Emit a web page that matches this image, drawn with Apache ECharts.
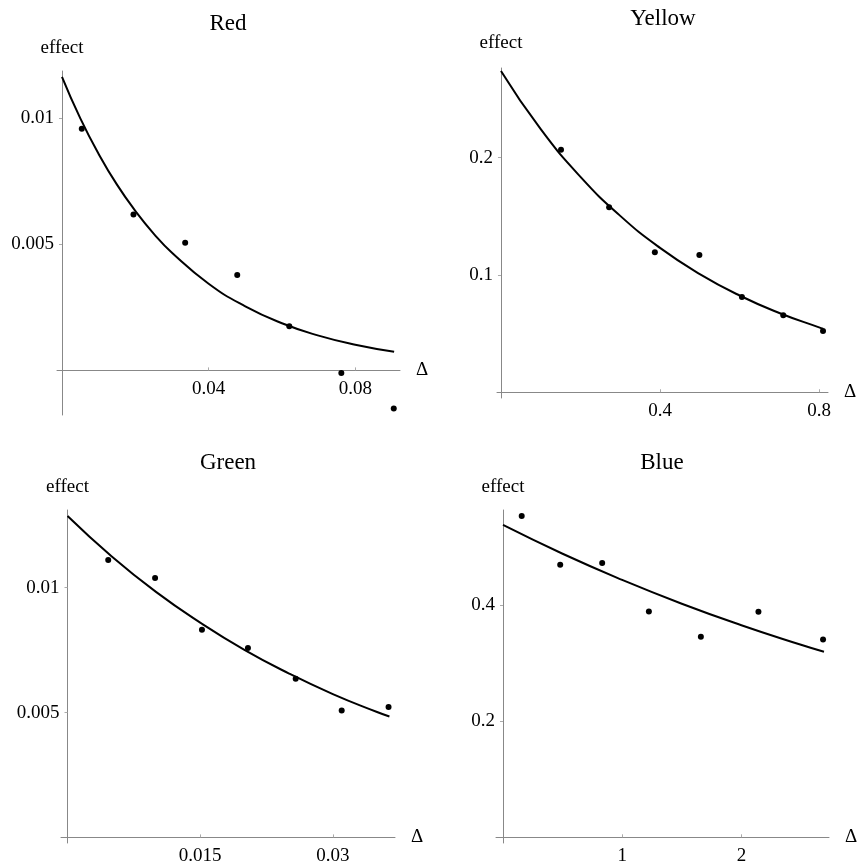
<!DOCTYPE html>
<html>
<head>
<meta charset="utf-8">
<script src="https://cdn.jsdelivr.net/npm/echarts@6/dist/echarts.min.js"></script>
<style>
  html, body { margin: 0; padding: 0; background: #fff; }
  #chart { width: 860px; height: 867px; }
</style>
</head>
<body>
<div id="chart"></div>
<script>
// panel titles
const titles = ['Red', 'Yellow', 'Green', 'Blue']

// measured points (Δ, effect)
const redX = [0.0054, 0.0195, 0.0336, 0.0478, 0.062, 0.0762, 0.0905]
const redY = [0.00959, 0.00619, 0.00506, 0.00379, 0.00175, -0.0001, -0.00151]
const yellowX = [0.151, 0.272, 0.387, 0.499, 0.606, 0.71, 0.81]
const yellowY = [0.2068, 0.1577, 0.1193, 0.117, 0.0812, 0.0656, 0.0523]
const greenX = [0.0046, 0.0099, 0.0152, 0.0204, 0.0258, 0.031, 0.0363]
const greenY = [0.01111, 0.01039, 0.00831, 0.00758, 0.00635, 0.00508, 0.00522]
const blueX = [0.157, 0.48, 0.832, 1.224, 1.66, 2.143, 2.685]
const blueY = [0.5534, 0.4695, 0.4724, 0.389, 0.3453, 0.3884, 0.3408]

// fitted curves
const redFitX = [0, 0.005, 0.01, 0.015, 0.02, 0.025, 0.03, 0.04, 0.05, 0.06, 0.07, 0.08, 0.0906]
const redFitY = [0.01165, 0.0100, 0.00859, 0.00737, 0.00633, 0.00543, 0.00467, 0.00344, 0.00254, 0.00187, 0.00138, 0.00102, 0.00074]
const yellowFitX = [0, 0.1, 0.2, 0.3, 0.4, 0.5, 0.6, 0.7, 0.8, 0.81]
const yellowFitY = [0.274, 0.2243, 0.1837, 0.1504, 0.1231, 0.1008, 0.0825, 0.0676, 0.0553, 0.0542]
const greenFitX = [0, 0.005, 0.01, 0.015, 0.02, 0.025, 0.03, 0.035, 0.0364]
const greenFitY = [0.01287, 0.01125, 0.00983, 0.0086, 0.00751, 0.00657, 0.00574, 0.00502, 0.00484]
const blueFitX = [0, 0.5, 1, 1.5, 2, 2.5, 2.693]
const blueFitY = [0.538, 0.4884, 0.4434, 0.4024, 0.3654, 0.3316, 0.3195]

// tick labels
const redXTicks = [0.04, 0.08]
const redYTicks = [0.005, 0.01]
const yellowXTicks = [0.4, 0.8]
const yellowYTicks = [0.1, 0.2]
const greenXTicks = [0.015, 0.03]
const greenYTicks = [0.005, 0.01]
const blueXTicks = [1, 2]
const blueYTicks = [0.2, 0.4]

const zip = (xs, ys) => xs.map((x, i) => [x, ys[i]])

const panels = [
  { title: titles[0], pts: zip(redX, redY), fit: zip(redFitX, redFitY), xt: redXTicks, yt: redYTicks,
    grid: { left: 57, top: 71, width: 343, height: 344 }, xr: [-0.00136, 0.0922], yr: [-0.00177, 0.01188],
    titlePos: [228, 24], yGap: 13 },
  { title: titles[1], pts: zip(yellowX, yellowY), fit: zip(yellowFitX, yellowFitY), xt: yellowXTicks, yt: yellowYTicks,
    grid: { left: 497, top: 68, width: 331, height: 330 }, xr: [-0.01, 0.8225], yr: [-0.0049, 0.2765],
    titlePos: [663, 19], yGap: 15 },
  { title: titles[2], pts: zip(greenX, greenY), fit: zip(greenFitX, greenFitY), xt: greenXTicks, yt: greenYTicks,
    grid: { left: 61, top: 510, width: 334, height: 333 }, xr: [-0.00074, 0.03703], yr: [-0.000224, 0.01311],
    titlePos: [228, 463], yGap: 13 },
  { title: titles[3], pts: zip(blueX, blueY), fit: zip(blueFitX, blueFitY), xt: blueXTicks, yt: blueYTicks,
    grid: { left: 496, top: 510, width: 333, height: 333 }, xr: [-0.0587, 2.735], yr: [-0.0098, 0.5638],
    titlePos: [662, 463], yGap: 13 }
]

const font = '"Liberation Serif", "DejaVu Serif", serif'
const axisColor = '#888'

// shift the axes from the grid edge to the zero line (labels follow too)
const zeroShift = (range, size) => -(0 - range[0]) / (range[1] - range[0]) * size

const option = {
  animation: false,
  backgroundColor: '#fff',
  textStyle: { fontFamily: font },
  graphic: panels.map(p => ({
    type: 'text',
    x: p.titlePos[0],
    y: p.titlePos[1],
    style: {
      text: p.title,
      font: '23px ' + font,
      fill: '#000',
      align: 'center',
      verticalAlign: 'middle',
      textAlign: 'center',
      textVerticalAlign: 'middle'
    }
  })),
  grid: panels.map(p => Object.assign({ containLabel: false, outerBoundsMode: 'none' }, p.grid)),
  xAxis: panels.map((p, i) => ({
    gridIndex: i,
    type: 'value',
    min: p.xr[0],
    max: p.xr[1],
    position: 'bottom',
    offset: zeroShift(p.yr, p.grid.height),
    name: 'Δ',
    nameLocation: 'end',
    nameGap: 16,
    nameTextStyle: { fontSize: 19, color: '#000', fontFamily: font },
    axisLine: { onZero: false, lineStyle: { color: axisColor, width: 1 } },
    axisTick: { show: true, inside: true, length: 3, customValues: p.xt, lineStyle: { color: '#aaa' } },
    axisLabel: { customValues: p.xt, fontSize: 19, color: '#000', margin: 9, fontFamily: font },
    splitLine: { show: false }
  })),
  yAxis: panels.map((p, i) => ({
    gridIndex: i,
    type: 'value',
    min: p.yr[0],
    max: p.yr[1],
    position: 'left',
    offset: zeroShift(p.xr, p.grid.width),
    name: 'effect',
    nameLocation: 'end',
    nameGap: p.yGap,
    nameTextStyle: { fontSize: 19, color: '#000', fontFamily: font, align: 'center' },
    axisLine: { onZero: false, lineStyle: { color: axisColor, width: 1 } },
    axisTick: { show: true, length: 3, customValues: p.yt, lineStyle: { color: '#aaa' } },
    axisLabel: { customValues: p.yt, fontSize: 19, color: '#000', margin: 8, fontFamily: font },
    splitLine: { show: false }
  })),
  series: panels.flatMap((p, i) => [
    {
      type: 'line',
      xAxisIndex: i,
      yAxisIndex: i,
      data: p.fit,
      showSymbol: false,
      smooth: true,
      lineStyle: { color: '#000', width: 2 },
      z: 2
    },
    {
      type: 'scatter',
      xAxisIndex: i,
      yAxisIndex: i,
      data: p.pts,
      symbolSize: 6,
      itemStyle: { color: '#000', opacity: 1 },
      z: 3
    }
  ])
}

const chart = echarts.init(document.getElementById('chart'))
chart.setOption(option)
</script>
</body>
</html>
